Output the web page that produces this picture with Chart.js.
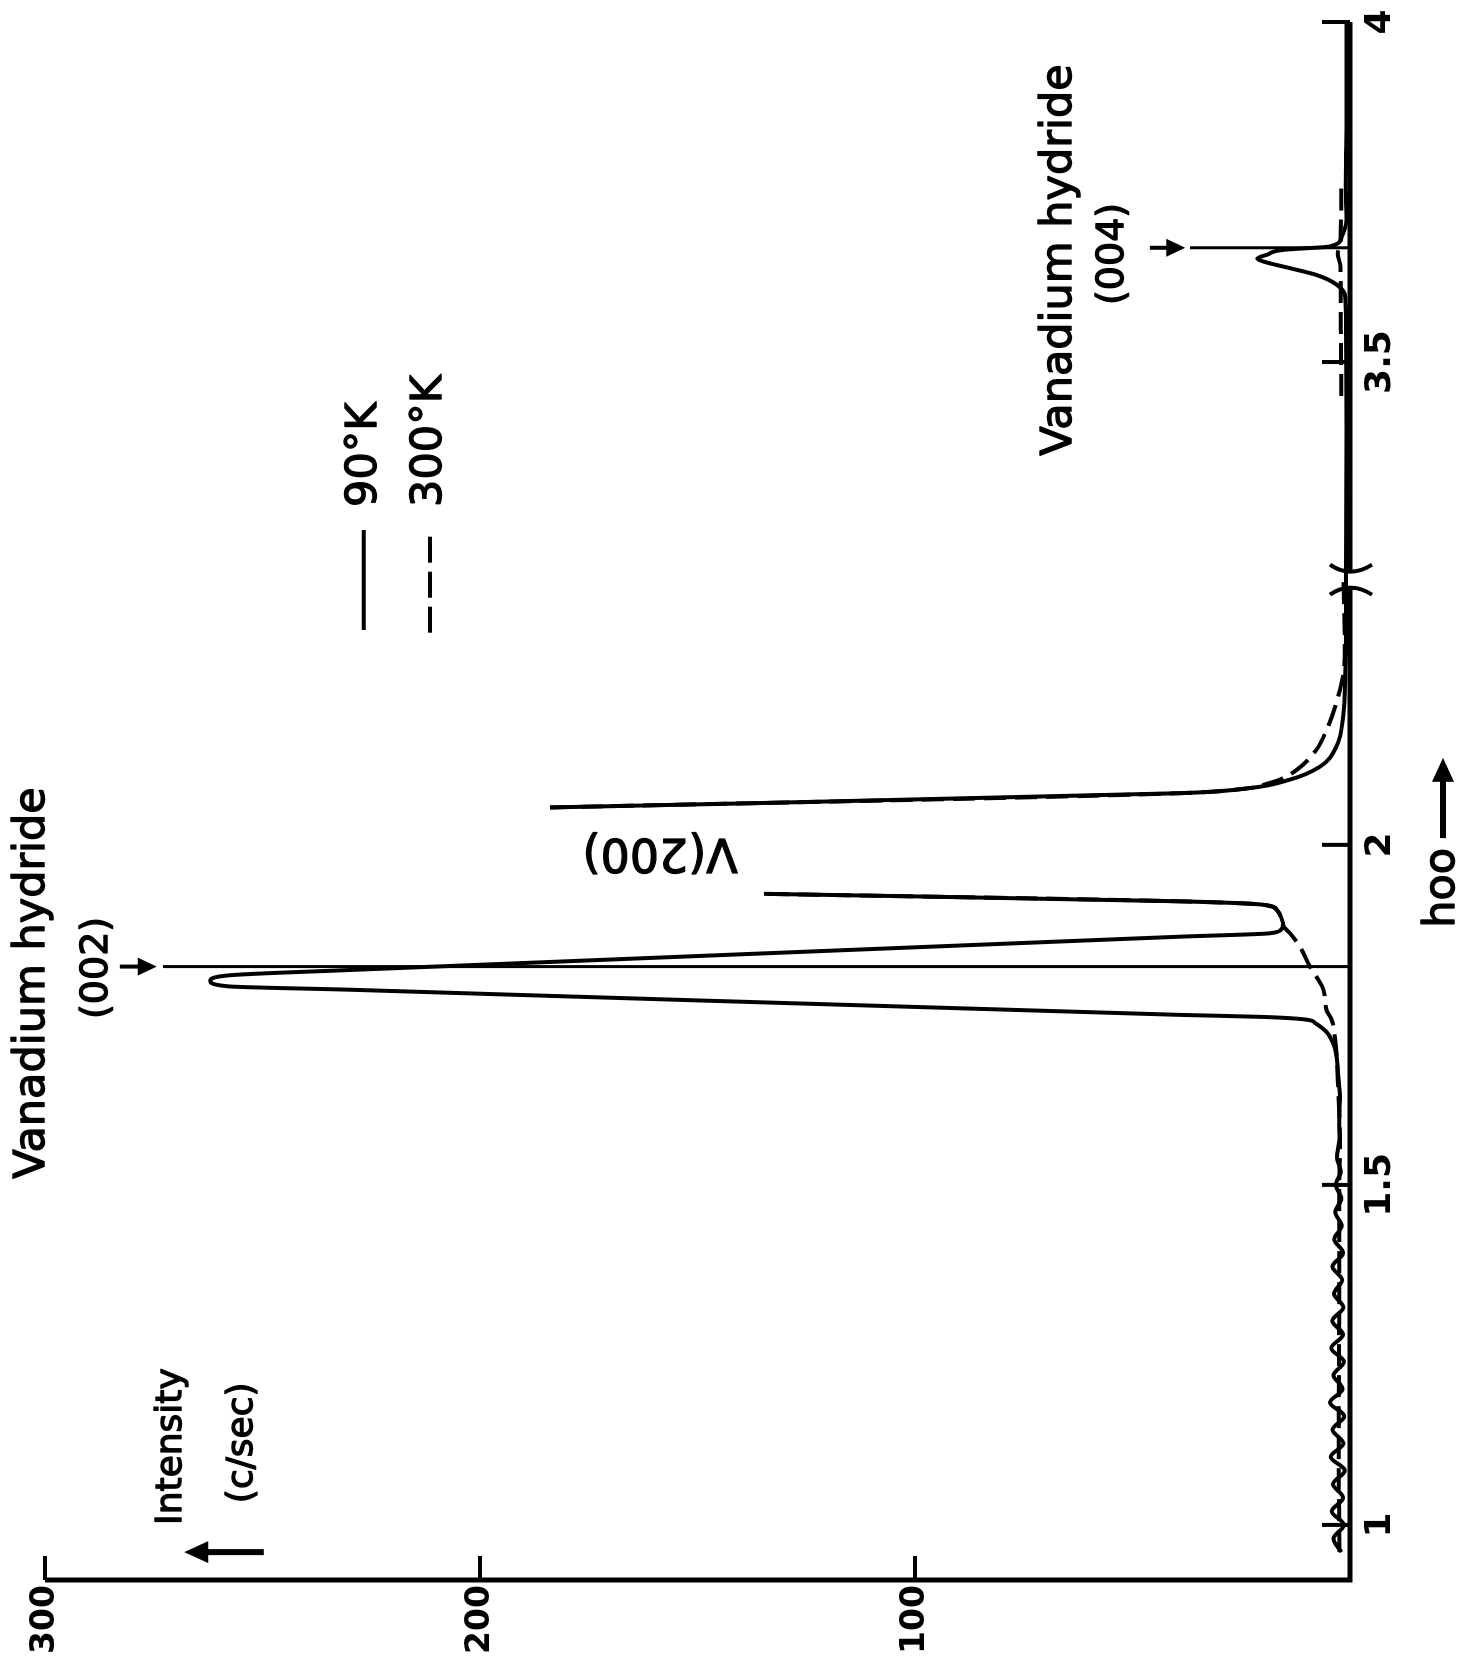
<!DOCTYPE html>
<html>
<head>
<meta charset="utf-8">
<title>Vanadium hydride scan</title>
<script src="https://cdn.jsdelivr.net/npm/chart.js@4.4.1/dist/chart.umd.min.js"></script>
<style>
  html, body { margin: 0; padding: 0; overflow: hidden; background: #fff; }
  body { width: 1472px; height: 1662px; position: relative; }
  /* the figure is printed sideways: draw it upright, then turn it */
  #turn { position: absolute; left: 0; top: 0; width: 1662px; height: 1472px;
          transform-origin: 0 0; transform: translate(0, 1662px) rotate(-90deg); }
</style>
</head>
<body>
<div id="turn"><canvas id="scan" width="1662" height="1472"></canvas></div>
<script>
// hoo axis is broken between these two values
const BREAK_FROM = 2.39;
const BREAK_TO = 3.18;
const GAP = BREAK_TO - BREAK_FROM;

const hooTicks = [1, 1.5, 2, 3.5, 4];
const intensityTicks = [0, 100, 200, 300];

// 90 K trace (solid); null = pen off scale at top of V(200)
const hoo90 = [0.96, 0.98, 1.00, 1.02, 1.04, 1.06, 1.08, 1.10, 1.12, 1.14, 1.16, 1.18, 1.20, 1.22,
  1.24, 1.26, 1.28, 1.30, 1.32, 1.34, 1.36, 1.38, 1.40, 1.42, 1.44, 1.46, 1.48, 1.50, 1.52, 1.54,
  1.57, 1.60, 1.625, 1.66, 1.699, 1.725, 1.738, 1.743, 1.747, 1.750,
  1.787, 1.792, 1.800, 1.808, 1.816, 1.865, 1.870, 1.876, 1.880, 1.893, 1.904, 1.912, 1.917, 1.928,
  1.99, 2.055, 2.076, 2.083, 2.096, 2.115, 2.145, 2.194, 2.253, 2.301, 2.39,
  3.19, 3.40, 3.55, 3.596, 3.614, 3.628, 3.638, 3.648, 3.652, 3.658, 3.665, 3.670, 3.684, 3.709,
  3.76, 3.85, 4.00];
const int90 = [2.0, 3.8, 1.4, 4.2, 1.6, 3.9, 1.2, 4.4, 1.5, 4.0, 1.3, 4.6, 1.7, 3.8,
  1.4, 4.3, 1.6, 4.1, 1.5, 3.7, 1.8, 4.0, 1.6, 3.6, 1.9, 3.4, 2.0, 3.3, 2.1, 3.0,
  2.4, 2.5, 2.3, 2.7, 3.4, 5.4, 8.0, 10.0, 20.0, 39.1,
  229.9, 258.0, 262.0, 258.0, 229.9, 39.1, 18.4, 15.8, 15.3, 15.8, 16.8, 20.0, 39.1, 134.7,
  null, 183.9, 39.1, 23.7, 13.8, 6.9, 3.1, 1.5, 1.1, 0.9, 0.9,
  0.9, 0.8, 0.9, 1.1, 3.1, 7.7, 13.8, 20.0, 21.3, 19.0, 15.3, 4.6, 1.9, 0.8,
  1.0, 0.8, 0.8];

// 300 K trace (dashed)
const hoo300 = [0.96, 1.10, 1.30, 1.50, 1.55, 1.654, 1.713, 1.743, 1.757, 1.787, 1.806, 1.821, 1.850,
  1.870, 1.880, 1.893, 1.904, 1.912, 1.917, 1.928,
  1.99, 2.055, 2.076, 2.083, 2.090, 2.096, 2.110, 2.140, 2.169, 2.203, 2.228, 2.253, 2.30, 2.39,
  3.30, 3.45, 3.55, 3.64, 3.66, 3.68, 3.76];
const int300 = [2.4, 2.6, 2.5, 2.5, 2.3, 2.8, 3.4, 4.2, 5.4, 6.1, 7.7, 9.2, 11.5,
  13.8, 15.3, 15.8, 16.8, 20.0, 39.1, 134.7,
  null, 183.9, 39.1, 23.7, 19.0, 16.1, 12.3, 7.7, 5.4, 3.4, 2.3, 1.5, 1.2, 1.5,
  null, 2.0, 2.1, 2.2, 2.8, 2.2, 2.0];

// hydride peak markers: position, top of line, arrow tail and arrow tip
const markerHoo = [1.821, 3.668];
const markerTop = [272.9, 36.8];
const arrowTail = [282.8, 46.0];
const arrowTip = [274.3, 37.9];

const toAxis = h => (h <= BREAK_FROM ? h : h - GAP);
const FONT = '"DejaVu Sans", sans-serif';

function series(hs, vs) {
  return hs.map((h, i) => ({ x: toAxis(h), y: vs[i] }));
}

// lettering is a bit heavier than the plain face
function letter(ctx, text, x, y) {
  ctx.fillText(text, x, y);
  ctx.strokeText(text, x, y);
}

const extras = {
  id: 'extras',
  afterDraw(chart) {
    const { ctx, chartArea: a, scales } = chart;
    const X = p => scales.x.getPixelForValue(p);
    const Y = v => scales.y.getPixelForValue(v);
    ctx.save();
    ctx.strokeStyle = '#000';
    ctx.fillStyle = '#000';

    // axes, with the break on hoo
    const bx = X(BREAK_FROM);
    ctx.lineWidth = 5;
    ctx.beginPath();
    ctx.moveTo(a.left, a.top);
    ctx.lineTo(a.left, a.bottom);
    ctx.lineTo(bx - 9, a.bottom);
    ctx.moveTo(bx + 9, a.bottom);
    ctx.lineTo(a.right, a.bottom);
    ctx.stroke();

    ctx.lineWidth = 4;
    ctx.beginPath();
    ctx.moveTo(bx - 15, a.bottom - 20);
    ctx.quadraticCurveTo(bx - 1, a.bottom, bx - 15, a.bottom + 22);
    ctx.moveTo(bx + 15, a.bottom - 20);
    ctx.quadraticCurveTo(bx + 1, a.bottom, bx + 15, a.bottom + 22);
    ctx.stroke();

    // inward ticks
    ctx.beginPath();
    hooTicks.forEach(h => {
      const px = X(toAxis(h));
      ctx.moveTo(px, a.bottom);
      ctx.lineTo(px, a.bottom - 28);
    });
    intensityTicks.slice(1).forEach(v => {
      ctx.moveTo(a.left, Y(v));
      ctx.lineTo(a.left + 24, Y(v));
    });
    ctx.stroke();

    // arrows onto the hydride markers
    markerHoo.forEach((h, i) => {
      const px = X(toAxis(h));
      const t = Y(arrowTail[i]), tip = Y(arrowTip[i]);
      ctx.lineWidth = 4;
      ctx.beginPath();
      ctx.moveTo(px, t);
      ctx.lineTo(px, tip - 10);
      ctx.stroke();
      ctx.beginPath();
      ctx.moveTo(px, tip);
      ctx.lineTo(px - 9, tip - 19);
      ctx.lineTo(px + 9, tip - 19);
      ctx.closePath();
      ctx.fill();
    });

    // intensity arrow (points to larger counts)
    {
      const px = X(0.960), t = Y(249.7), tip = Y(268.0);
      ctx.lineWidth = 6;
      ctx.beginPath();
      ctx.moveTo(px, t);
      ctx.lineTo(px, tip + 12);
      ctx.stroke();
      ctx.beginPath();
      ctx.moveTo(px, tip);
      ctx.lineTo(px - 11, tip + 24);
      ctx.lineTo(px + 11, tip + 24);
      ctx.closePath();
      ctx.fill();
    }

    // hoo arrow
    {
      const py = Y(-21.4), t = X(2.010), tip = X(2.128);
      ctx.lineWidth = 6;
      ctx.beginPath();
      ctx.moveTo(t, py);
      ctx.lineTo(tip - 12, py);
      ctx.stroke();
      ctx.beginPath();
      ctx.moveTo(tip, py);
      ctx.lineTo(tip - 24, py - 11);
      ctx.lineTo(tip - 24, py + 11);
      ctx.closePath();
      ctx.fill();
    }

    // legend
    ctx.lineWidth = 4;
    ctx.beginPath();
    ctx.moveTo(X(2.316), Y(226.7));
    ctx.lineTo(X(2.463), Y(226.7));
    ctx.stroke();
    ctx.setLineDash([26, 9]);
    ctx.beginPath();
    ctx.moveTo(X(2.312), Y(211.5));
    ctx.lineTo(X(2.463), Y(211.5));
    ctx.stroke();
    ctx.setLineDash([]);

    // text
    ctx.lineWidth = 1.3;
    ctx.lineJoin = 'round';
    ctx.textBaseline = 'middle';
    ctx.textAlign = 'left';
    ctx.font = '43px ' + FONT;
    letter(ctx, '90°K', X(2.497), Y(226.4));
    letter(ctx, '300°K', X(2.497), Y(211.5));
    letter(ctx, 'hoo', X(1.878), Y(-21.4));
    ctx.font = '36px ' + FONT;
    letter(ctx, 'Intensity', X(1.0), Y(270.8));
    letter(ctx, '(c/sec)', X(1.032), Y(254.5));

    ctx.textAlign = 'center';
    ctx.font = '43px ' + FONT;
    letter(ctx, 'Vanadium hydride', X(1.797), Y(302.8));
    letter(ctx, 'Vanadium hydride', X(2.860), Y(66.7));
    ctx.font = '38px ' + FONT;
    letter(ctx, '(002)', X(1.819), Y(288.0));
    letter(ctx, '(004)', X(2.869), Y(54.5));

    ctx.save();
    ctx.translate(X(1.991), Y(158.6));
    ctx.rotate(-Math.PI / 2);
    ctx.font = '46px ' + FONT;
    letter(ctx, 'V(200)', 0, 0);
    ctx.restore();

    ctx.restore();
  }
};

const line = { borderColor: '#000', pointRadius: 0, fill: false, spanGaps: false };

new Chart(document.getElementById('scan'), {
  type: 'line',
  data: {
    datasets: [
      { ...line, label: '300°K', data: series(hoo300, int300), borderWidth: 4, borderDash: [22, 9],
        cubicInterpolationMode: 'monotone' },
      { ...line, label: '90°K', data: series(hoo90, int90), borderWidth: 4,
        cubicInterpolationMode: 'monotone' },
      { ...line, label: '(002)', data: series([markerHoo[0], markerHoo[0]], [markerTop[0], 0]), borderWidth: 3 },
      { ...line, label: '(004)', data: series([markerHoo[1], markerHoo[1]], [markerTop[1], 0]), borderWidth: 3 }
    ]
  },
  options: {
    responsive: false,
    animation: false,
    devicePixelRatio: 1,
    layout: { padding: { top: 45, right: 22, left: 0, bottom: 0 } },
    plugins: { legend: { display: false }, tooltip: { enabled: false } },
    scales: {
      x: {
        type: 'linear',
        min: 0.919,
        max: toAxis(4),
        grid: { display: false, drawTicks: false },
        border: { display: false },
        afterBuildTicks: s => { s.ticks = hooTicks.map(h => ({ value: toAxis(h) })); },
        afterFit: s => { s.height = 122; },
        ticks: {
          autoSkip: false, maxRotation: 0, padding: 9, color: '#000',
          font: { family: 'DejaVu Sans', size: 36, weight: 'bold' },
          callback: (v, i) => String(hooTicks[i])
        }
      },
      y: {
        type: 'linear',
        min: 0,
        max: 300,
        grid: { display: false, drawTicks: false },
        border: { display: false },
        afterBuildTicks: s => { s.ticks = intensityTicks.map(v => ({ value: v })); },
        afterFit: s => { s.width = 82; },
        ticks: {
          padding: 5, color: '#000',
          font: { family: 'DejaVu Sans', size: 33, weight: 'bold' },
          callback: v => (v === 0 ? '' : String(v))
        }
      }
    }
  },
  plugins: [extras]
});
</script>
</body>
</html>
